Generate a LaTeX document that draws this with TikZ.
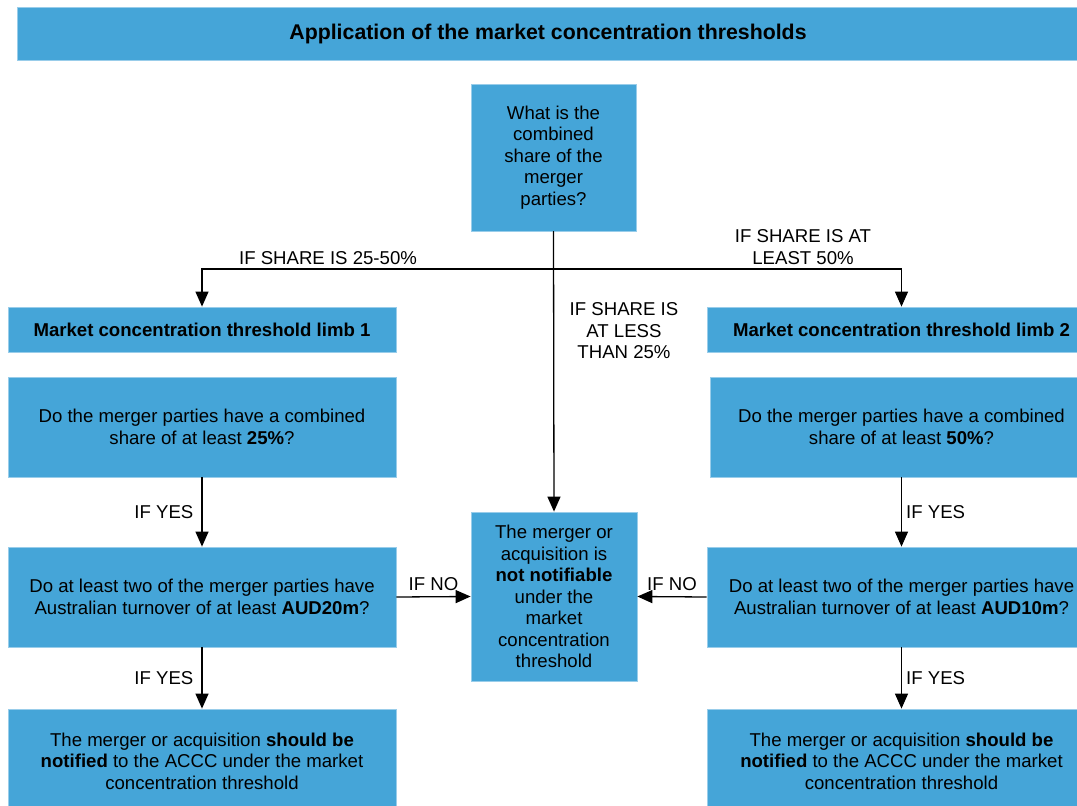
\documentclass[tikz,border=0pt]{standalone}
\usepackage{fontspec}
\setmainfont{Liberation Sans}
\usetikzlibrary{arrows.meta}

\definecolor{boxblue}{RGB}{69,165,216}

\tikzset{
  box/.style={fill=boxblue, draw=boxblue!55!white, line width=0.8pt, align=center,
    inner sep=0pt, text=black, font=\fontsize{18.6}{21.5}\selectfont},
  lbl/.style={align=center, inner sep=2pt, font=\fontsize{18.6}{21.5}\selectfont},
  flow/.style={-{Triangle[length=15pt,width=13pt]}, line width=1.3pt}
}

\begin{document}
\begin{tikzpicture}[x=1pt,y=-1pt]
\useasboundingbox (0,0) rectangle (1077,806);

% boxes
\node[box, minimum width=1062pt, minimum height=53pt, font=\fontsize{21.3}{24}\selectfont\bfseries] (title) at (548,33.5)
  {Application of the market concentration thresholds};
\node[box, minimum width=165pt, minimum height=147pt] (q0) at (553.5,157.5)
  {What is the\\combined\\share of the\\merger\\parties?};

\node[box, minimum width=388pt, minimum height=45pt, font=\fontsize{18.6}{21.5}\selectfont\bfseries] (limb1) at (202,329.5)
  {Market concentration threshold limb 1};
\node[box, minimum width=389pt, minimum height=45pt, font=\fontsize{18.6}{21.5}\selectfont\bfseries] (limb2) at (901.5,329.5)
  {Market concentration threshold limb 2};

\node[box, minimum width=388pt, minimum height=100pt] (lq1) at (202,427)
  {Do the merger parties have a combined\\share of at least \textbf{25\%}?};
\node[box, minimum width=383pt, minimum height=100pt] (rq1) at (901.5,427)
  {Do the merger parties have a combined\\share of at least \textbf{50\%}?};

\node[box, minimum width=388pt, minimum height=100pt] (lq2) at (202,597)
  {Do at least two of the merger parties have\\Australian turnover of at least \textbf{AUD20m}?};
\node[box, minimum width=389pt, minimum height=100pt] (rq2) at (901.5,597)
  {Do at least two of the merger parties have\\Australian turnover of at least \textbf{AUD10m}?};

\node[box, minimum width=166pt, minimum height=169pt] (mid) at (554,596.5)
  {The merger or\\acquisition is\\\textbf{not notifiable}\\under the\\market\\concentration\\threshold};

\node[box, minimum width=388pt, minimum height=104pt] (lres) at (202,761)
  {The merger or acquisition \textbf{should be}\\\textbf{notified} to the ACCC under the market\\concentration threshold};
\node[box, minimum width=389pt, minimum height=104pt] (rres) at (901.5,761)
  {The merger or acquisition \textbf{should be}\\\textbf{notified} to the ACCC under the market\\concentration threshold};

% branches from the first question
\coordinate (lvl) at (0,269);
\coordinate (branch) at (q0.south |- lvl);
\draw[line width=1.3pt] (q0.south) -- (branch);
\draw[flow] (branch) -| (limb1.north);
\draw[flow] (branch) -| (limb2.north);
\draw[flow] (q0.south) -- (mid.north);

\node[lbl] (l25) at (328,258) {IF SHARE IS 25-50\%};
\node[lbl] (l50) at (803,247) {IF SHARE IS AT\\LEAST 50\%};
\node[lbl] (lless) at (624,331) {IF SHARE IS\\AT LESS\\THAN 25\%};

% limb 1
\draw[flow] (lq1.south) -- node[lbl, left=6pt] {IF YES} (lq2.north);
\draw[flow] (lq2.south) -- node[lbl, left=6pt] {IF YES} (lres.north);
\draw[flow] (lq2.east) -- node[lbl, above=3pt] {IF NO} (mid.west);

% limb 2
\draw[flow] (rq1.south) -- node[lbl, right=2pt] {IF YES} (rq2.north);
\draw[flow] (rq2.south) -- node[lbl, right=2pt] {IF YES} (rres.north);
\draw[flow] (rq2.west) -- node[lbl, above=3pt] {IF NO} (mid.east);
\end{tikzpicture}
\end{document}
